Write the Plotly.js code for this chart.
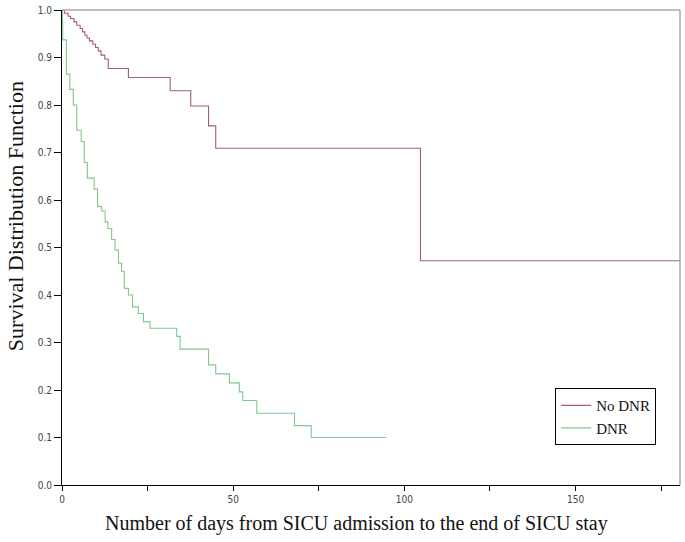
<!DOCTYPE html>
<html>
<head>
<meta charset="utf-8">
<script src="https://cdn.plot.ly/plotly-3.0.1.min.js"></script>
<style>
html,body{margin:0;padding:0;background:#fff;}
#chart{width:685px;height:542px;}
</style>
</head>
<body>
<div id="chart"></div>
<script>
// Kaplan-Meier step data
const noDnrDays = [0, 0.7, 1.8, 2.5, 3.5, 4.3, 5.3, 6.0, 6.7, 7.3, 8.0, 9.0, 9.8, 10.6, 11.4, 12.5, 13.5, 19.4, 31.6, 37.6, 42.8, 44.9, 104.7, 180.5];
const noDnrSurv = [1.0, 0.993, 0.987, 0.982, 0.975, 0.968, 0.961, 0.954, 0.947, 0.941, 0.935, 0.928, 0.921, 0.914, 0.905, 0.897, 0.877, 0.858, 0.830, 0.798, 0.756, 0.709, 0.472, 0.472];

const dnrDays = [0, 0.1, 0.2, 1.3, 2.3, 3.3, 4.3, 5.6, 6.5, 7.4, 9.4, 10.4, 11.6, 12.6, 13.4, 14.5, 15.5, 16.5, 17.4, 18.2, 19.4, 20.6, 22.3, 23.8, 25.7, 33.5, 34.5, 42.8, 44.9, 48.9, 51.8, 52.8, 56.9, 67.9, 72.8, 94.7];
const dnrSurv = [1.0, 0.979, 0.937, 0.865, 0.833, 0.800, 0.747, 0.723, 0.679, 0.646, 0.623, 0.586, 0.577, 0.554, 0.540, 0.517, 0.495, 0.467, 0.450, 0.414, 0.400, 0.375, 0.361, 0.344, 0.330, 0.313, 0.286, 0.253, 0.234, 0.215, 0.196, 0.178, 0.151, 0.125, 0.100, 0.100];

const seriesNames = ["No DNR", "DNR"];
const xTitle = "Number of days from SICU admission to the end of SICU stay";
const yTitle = "Survival Distribution Function";
const xTickVals = [0, 25, 50, 75, 100, 125, 150, 175];
const xTickText = ["0", "", "50", "", "100", "", "150", ""];
const yTickVals = [0, 0.1, 0.2, 0.3, 0.4, 0.5, 0.6, 0.7, 0.8, 0.9, 1.0];
const yTickText = ["0.0", "0.1", "0.2", "0.3", "0.4", "0.5", "0.6", "0.7", "0.8", "0.9", "1.0"];

const tickFont = {family: "Liberation Sans Narrow, DejaVu Sans Condensed, Arial, sans-serif", size: 10, color: "#444"};
const serif = "Liberation Serif, Times New Roman, serif";

const traces = [
  {x: noDnrDays, y: noDnrSurv, name: seriesNames[0], type: "scatter", mode: "lines",
   line: {shape: "hv", color: "#a0606e", width: 1.1}},
  {x: dnrDays, y: dnrSurv, name: seriesNames[1], type: "scatter", mode: "lines",
   line: {shape: "hv", color: "#80c890", width: 1.1}}
];

const layout = {
  width: 685, height: 542,
  margin: {l: 62, r: 5, t: 10, b: 57},
  paper_bgcolor: "#fff", plot_bgcolor: "#fff",
  showlegend: true,
  legend: {x: 0.798, y: 0.204, xanchor: "left", yanchor: "top",
    bordercolor: "#000", borderwidth: 1, bgcolor: "#fff",
    font: {family: serif, size: 15, color: "#111"},
    itemwidth: 30, tracegroupgap: 0},
  xaxis: {range: [0, 180.5], tickvals: xTickVals, ticktext: xTickText,
    showgrid: false, zeroline: false, showline: true, linecolor: "#000", linewidth: 1,
    ticks: "outside", ticklen: 5, tickcolor: "#000", tickfont: tickFont},
  yaxis: {range: [0, 1], tickvals: yTickVals, ticktext: yTickText,
    showgrid: false, zeroline: false, showline: true, linecolor: "#000", linewidth: 1,
    ticks: "outside", ticklen: 7, tickcolor: "#000", tickfont: tickFont},
  annotations: [
    {text: xTitle, xref: "paper", yref: "paper", x: 0.477, y: -0.082,
     xanchor: "center", yanchor: "middle", showarrow: false,
     font: {family: serif, size: 20, color: "#111"}},
    {text: yTitle, xref: "paper", yref: "paper", x: -0.076, y: 0.566, textangle: -90,
     xanchor: "center", yanchor: "middle", showarrow: false,
     font: {family: serif, size: 22, color: "#111"}}
  ],
  shapes: [
    {type: "line", xref: "paper", yref: "paper", x0: 0, x1: 1, y0: 1, y1: 1, line: {color: "#aaa", width: 1.5}},
    {type: "line", xref: "paper", yref: "paper", x0: 1, x1: 1, y0: 0, y1: 1, line: {color: "#aaa", width: 1.5}}
  ]
};

Plotly.newPlot("chart", traces, layout, {displayModeBar: false, staticPlot: true});
</script>
</body>
</html>
